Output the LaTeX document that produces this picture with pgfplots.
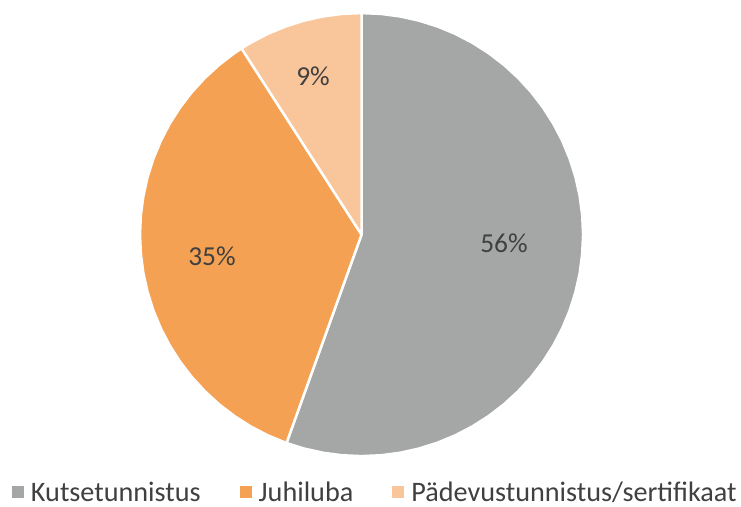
\documentclass[border=0pt]{standalone}
\usepackage{pgfplots}
\pgfplotsset{compat=1.18}
\usepackage{fontspec}
\setmainfont{Carlito}
\definecolor{cgray}{HTML}{A5A7A6}
\definecolor{corange}{HTML}{F5A153}
\definecolor{clight}{HTML}{F9C59A}
\definecolor{ctext}{HTML}{404040}
\begin{document}
\begin{tikzpicture}
\begin{axis}[
  x=221.5bp, y=221.5bp,
  xmin=-1.632, xmax=1.713, ymin=-1.226, ymax=1.059,
  axis lines=none, ticks=none, clip=false,
  font=\fontsize{27.5}{32}\selectfont, text=ctext,
  legend columns=3,
  legend style={draw=none, fill=none, at={(axis cs:-1.578,-1.163)}, anchor=west,
    inner sep=0pt, outer sep=0pt, font=\fontsize{28.3}{32}\selectfont, text=ctext,
    nodes={inner sep=0pt},
    /tikz/every odd column/.append style={column sep=7bp},
    /tikz/every even column/.append style={column sep=39bp}},
  legend image code/.code={\fill[#1,draw=none] (0bp,-6bp) rectangle (12bp,6bp);},
]
\path (rel axis cs:0,0) rectangle (rel axis cs:1,1);
% Kutsetunnistus 55.5 %, Juhiluba 35.4 %, Padevus 9.1 % (angles from the top, clockwise)
\addplot[data cs=polar, fill=cgray, draw=white, line width=2.5bp, line join=round] coordinates {
(0,0) (90,1) (85,1) (80,1) (75,1) (70,1) (65,1) (60,1) (55,1) (50,1) (45,1) (40,1) (35,1) (30,1) (25,1) (20,1) (15,1) (10,1) (5,1) (0,1) (-5,1) (-10,1) (-15,1) (-20,1) (-25,1) (-30,1) (-35,1) (-40,1) (-45,1) (-50,1) (-55,1) (-60,1) (-65,1) (-70,1) (-75,1) (-80,1) (-85,1) (-90,1) (-95,1) (-100,1) (-105,1) (-109.8,1) (0,0)
};
\addlegendentry{Kutsetunnistus}
\addplot[data cs=polar, fill=corange, draw=white, line width=2.5bp, line join=round] coordinates {
(0,0) (-109.8,1) (-115,1) (-120,1) (-125,1) (-130,1) (-135,1) (-140,1) (-145,1) (-150,1) (-155,1) (-160,1) (-165,1) (-170,1) (-175,1) (-180,1) (-185,1) (-190,1) (-195,1) (-200,1) (-205,1) (-210,1) (-215,1) (-220,1) (-225,1) (-230,1) (-235,1) (-237.2,1) (0,0)
};
\addlegendentry{Juhiluba}
\addplot[data cs=polar, fill=clight, draw=white, line width=2.5bp, line join=round] coordinates {
(0,0) (-237.2,1) (-240,1) (-245,1) (-250,1) (-255,1) (-260,1) (-265,1) (-270,1) (0,0)
};
\addlegendentry{Pädevustunnistus/sertifikaat}
\addplot[forget plot, draw=none, mark=none, nodes near coords, point meta=explicit symbolic,
  every node near coord/.append style={anchor=center, text=ctext, font=\fontsize{27.5}{32}\selectfont}]
  coordinates {(0.643,-0.038)[56\%] (-0.675,-0.097)[35\%] (-0.219,0.716)[9\%]};
\end{axis}
\end{tikzpicture}
\end{document}
